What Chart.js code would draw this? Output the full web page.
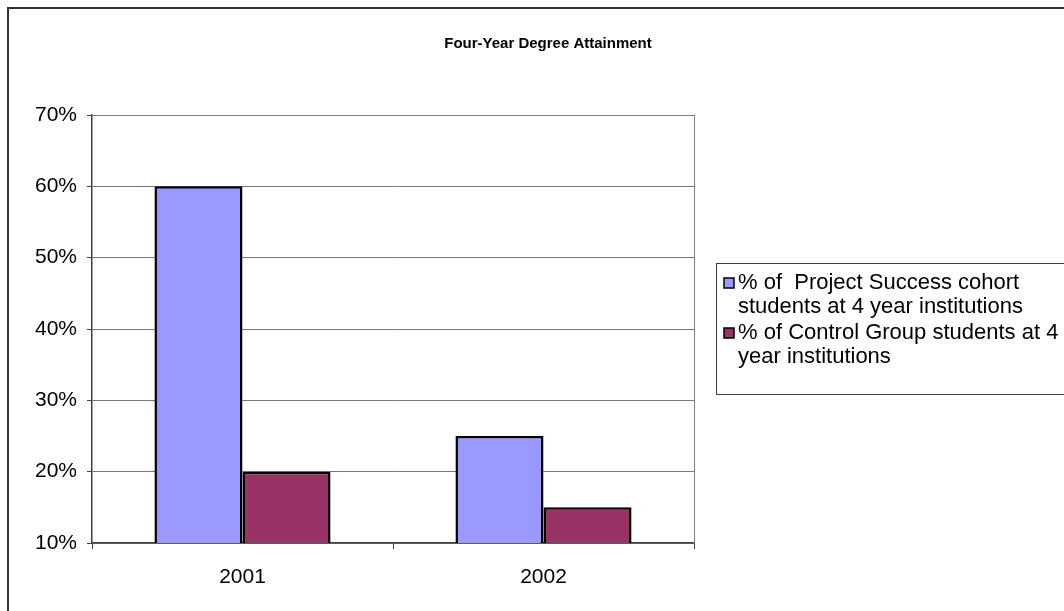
<!DOCTYPE html>
<html>
<head>
<meta charset="utf-8">
<script src="https://cdn.jsdelivr.net/npm/chart.js@4"></script>
<style>
    html, body { margin: 0; padding: 0; background: #FFFFFF; }
    #wrap { position: relative; width: 1064px; height: 611px; }
</style>
</head>
<body>
<div id="wrap"><canvas id="graph_degree" width="1064" height="611"></canvas></div>
<script>

var LABELS_YEARS                                            = ['2001', '2002'];

var SERIES_NAMES                                            = ['% of  Project Success cohort\nstudents at 4 year institutions', '% of Control Group students at 4\nyear institutions'];

var DATA_PROJECT_SUCCESS                                    = [60, 25];
var DATA_CONTROL_GROUP                                      = [20, 15];

var Y_TICKS                                                 = [10, 20, 30, 40, 50, 60, 70];

var CHART_TITLE                                             = 'Four-Year Degree Attainment';

var FONT_FAMILY                                             = "'Liberation Sans', Arial, sans-serif";

var graph_degree_chart                                      = null;



// frame round the whole chart, title, plot area border on the right
var plugin_frame = {
    id: 'frame',
    beforeDraw: function(chart) {
        var ctx = chart.ctx;
        ctx.save();
        ctx.strokeStyle = '#333333';
        ctx.lineWidth = 2;
        ctx.beginPath();
        ctx.moveTo(8, chart.height + 2);
        ctx.lineTo(8, 8);
        ctx.lineTo(chart.width + 2, 8);
        ctx.stroke();

        ctx.font = 'bold 15px ' + FONT_FAMILY;
        ctx.fillStyle = '#000000';
        ctx.textAlign = 'center';
        ctx.textBaseline = 'middle';
        ctx.fillText(CHART_TITLE, 548, 44);
        ctx.restore();
    },
    afterDatasetsDraw: function(chart) {
        var a = chart.chartArea;
        var ctx = chart.ctx;
        ctx.save();
        ctx.strokeStyle = '#808080';
        ctx.lineWidth = 1;
        ctx.beginPath();
        ctx.moveTo(Math.round(a.right) + 0.5, a.top);
        ctx.lineTo(Math.round(a.right) + 0.5, a.bottom);
        ctx.stroke();
        ctx.restore();
    }
};



// excel style legend box with wrapped labels
var plugin_legend_box = {
    id: 'legend_box',
    afterDraw: function(chart) {
        var ctx = chart.ctx;
        var a = chart.chartArea;
        var left = a.right + 22;
        var top = 263;
        var line_h = 24;

        ctx.save();
        ctx.strokeStyle = '#404040';
        ctx.lineWidth = 1;
        ctx.strokeRect(left + 0.5, top + 0.5, chart.width, 131);

        ctx.font = '22px ' + FONT_FAMILY;
        ctx.fillStyle = '#000000';
        ctx.textBaseline = 'middle';

        var y = top + 20;
        chart.data.datasets.forEach(function(ds) {
            ctx.fillStyle = ds.backgroundColor;
            ctx.fillRect(left + 8, y - 5, 10, 10);
            ctx.strokeStyle = '#000000';
            ctx.lineWidth = 1.5;
            ctx.strokeRect(left + 8, y - 5, 10, 10);
            ctx.fillStyle = '#000000';
            ds.label.split('\n').forEach(function(line) {
                ctx.fillText(line, left + 22, y);
                y += line_h;
            });
            y += 2;
        });
        ctx.restore();
    }
};



function graph_draw() {

    var canvas = document.getElementById('graph_degree');

    graph_degree_chart = new Chart(canvas, {
        type: 'bar',
        data: {
            labels: LABELS_YEARS,
            datasets: [
                {
                    label: SERIES_NAMES[0],
                    data: DATA_PROJECT_SUCCESS,
                    backgroundColor: '#9999FF',
                    borderColor: '#000000',
                    borderWidth: 2.5,
                },
                {
                    label: SERIES_NAMES[1],
                    data: DATA_CONTROL_GROUP,
                    backgroundColor: '#993366',
                    borderColor: '#000000',
                    borderWidth: 2.5,
                },
            ]
        },
        options: graph_options(),
        plugins: [plugin_frame, plugin_legend_box],
    });
}



function graph_options() {

    return {
        responsive: false,
        animation: false,
        layout: {
            padding: {
                left: 0,
                right: 370,
                top: 115,
                bottom: 0,
            }
        },
        datasets: {
            bar: {
                barPercentage: 1,
                categoryPercentage: 0.585,
            }
        },
        scales: {
            y: {
                min: Y_TICKS[0],
                max: Y_TICKS[Y_TICKS.length - 1],
                afterFit: function(scale) { scale.width = 92; },
                afterBuildTicks: function(scale) { scale.ticks = Y_TICKS.map(function(v) { return { value: v }; }); },
                ticks: {
                    color: '#000000',
                    padding: 10,
                    font: { family: FONT_FAMILY, size: 21 },
                    callback: function(value) { return value + '%'; }
                },
                grid: {
                    color: '#787878',
                    lineWidth: 1,
                    tickLength: 5,
                    tickColor: '#404040',
                },
                border: {
                    width: 1.5,
                    color: '#404040'
                }
            },
            x: {
                afterFit: function(scale) { scale.height = 68; },
                ticks: {
                    color: '#000000',
                    padding: 16,
                    font: { family: FONT_FAMILY, size: 21 },
                },
                grid: {
                    offset: true,
                    drawOnChartArea: false,
                    drawTicks: true,
                    tickLength: 6,
                    color: '#404040',
                },
                border: {
                    width: 1.5,
                    color: '#404040'
                }
            }
        },
        plugins: {
            legend: {
                display: false
            },
            tooltip: {
                enabled: false
            },
            title: {
                display: false
            }
        }
    };
}



graph_draw();

</script>
</body>
</html>
